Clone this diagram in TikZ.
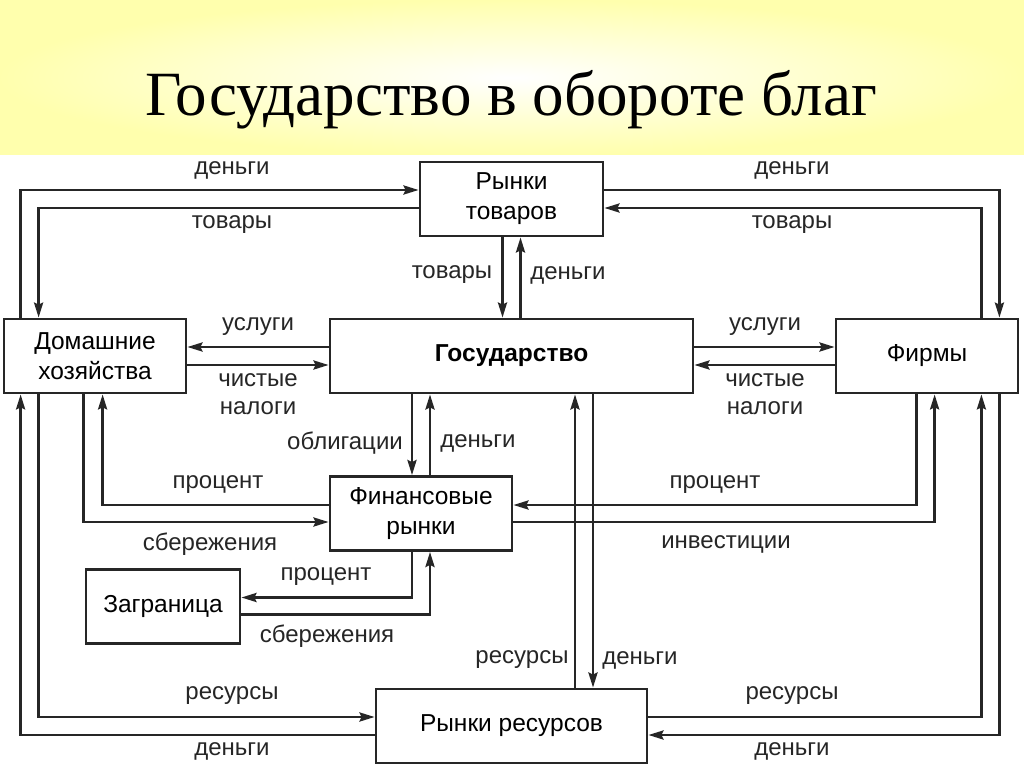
\documentclass[tikz,border=0pt]{standalone}
\usepackage{fontspec}
\setmainfont{Liberation Serif}
\setsansfont{Liberation Sans}
\usetikzlibrary{arrows.meta}

\begin{document}
\begin{tikzpicture}[x=1pt,y=-1pt,
	box/.style={draw=black!85,line width=2.8pt,inner sep=0pt,align=center,
		font=\sffamily\fontsize{24.5}{30}\selectfont},
	flow/.style={draw=black!85,line width=2.6pt,-{Stealth[length=15pt,width=9pt,inset=2pt]}},
	lbl/.style={inner sep=0pt,align=center,text=black!85,
		font=\sffamily\fontsize{24}{28}\selectfont}]
	\useasboundingbox (0,0) rectangle (1024,767);
	\fill[white] (0,0) rectangle (1024,767);
	\shade[inner color=white,outer color=yellow!32] (0,0) rectangle (1024,155);
	\node (title) at (511,100) {\fontsize{63}{70}\selectfont Государство в обороте благ};

	\node[box,minimum width=183,minimum height=74] (rt) at (511.5,199) {Рынки\\товаров};
	\node[box,minimum width=182,minimum height=74] (hh) at (95,356) {Домашние\\хозяйства};
	\node[box,minimum width=363,minimum height=74] (gov) at (511.5,356) {\bfseries Государство};
	\node[box,minimum width=182,minimum height=74] (firms) at (927,356) {Фирмы};
	\node[box,minimum width=182,minimum height=74] (fin) at (421,513.5) {Финансовые\\рынки};
	\node[box,minimum width=154,minimum height=74] (abroad) at (163,606.5) {Заграница};
	\node[box,minimum width=271,minimum height=74] (rr) at (511.5,726) {Рынки ресурсов};

	\draw[flow] ([xshift=18]hh.north west) |- ([yshift=9]rt.west);
	\draw[flow] ([yshift=-9]rt.west) -| ([xshift=36]hh.north west);
	\draw[flow] ([yshift=9]rt.east) -| ([xshift=-20]firms.north east);
	\draw[flow] ([xshift=-38]firms.north east) |- ([yshift=-9]rt.east);
	\draw[flow] ([xshift=-9]rt.south) -- ([xshift=-9]gov.north);
	\draw[flow] ([xshift=9]gov.north) -- ([xshift=9]rt.south);

	\draw[flow] ([yshift=9]gov.west) -- ([yshift=9]hh.east);
	\draw[flow] ([yshift=-9]hh.east) -- ([yshift=-9]gov.west);
	\draw[flow] ([yshift=9]gov.east) -- ([yshift=9]firms.west);
	\draw[flow] ([yshift=-9]firms.west) -- ([yshift=-9]gov.east);

	\draw[flow] ([xshift=-99.5]gov.south) -- ([xshift=-9]fin.north);
	\draw[flow] ([xshift=9]fin.north) -- ([xshift=-81.5]gov.south);
	\draw[flow] ([yshift=8.5]fin.west) -| ([xshift=100]hh.south west);
	\draw[flow] ([xshift=81]hh.south west) |- ([yshift=-8.5]fin.west);
	\draw[flow] ([xshift=82]firms.south west) |- ([yshift=8.5]fin.east);
	\draw[flow] ([yshift=-8.5]fin.east) -| ([xshift=100]firms.south west);
	\draw[flow] ([xshift=-9]fin.south) |- ([yshift=9]abroad.east);
	\draw[flow] ([yshift=-8]abroad.east) -| ([xshift=9]fin.south);

	\draw[flow] ([xshift=63.5]rr.north) -- ([xshift=63.5]gov.south);
	\draw[flow] ([xshift=81.5]gov.south) -- ([xshift=81.5]rr.north);
	\draw[flow] ([xshift=36]hh.south west) |- ([yshift=9]rr.west);
	\draw[flow] ([yshift=-9]rr.west) -| ([xshift=18]hh.south west);
	\draw[flow] ([yshift=9]rr.east) -| ([xshift=-38]firms.south east);
	\draw[flow] ([xshift=-20]firms.south east) |- ([yshift=-9]rr.east);

	\node[lbl] (l1) at (232,170) {деньги};
	\node[lbl] (l2) at (232,225) {товары};
	\node[lbl] (l3) at (792,170) {деньги};
	\node[lbl] (l4) at (792,225) {товары};
	\node[lbl] (l5) at (452,275) {товары};
	\node[lbl] (l6) at (568,275) {деньги};
	\node[lbl] (l7) at (258,327) {услуги};
	\node[lbl] (l8) at (258,394) {чистые\\налоги};
	\node[lbl] (l9) at (765,327) {услуги};
	\node[lbl] (l10) at (765,394) {чистые\\налоги};
	\node[lbl] (l11) at (345,443) {облигации};
	\node[lbl] (l12) at (478,443) {деньги};
	\node[lbl] (l13) at (218,485) {процент};
	\node[lbl] (l14) at (210,544) {сбережения};
	\node[lbl] (l15) at (715,485) {процент};
	\node[lbl] (l16) at (726,544) {инвестиции};
	\node[lbl] (l17) at (326,577) {процент};
	\node[lbl] (l18) at (327,636) {сбережения};
	\node[lbl] (l19) at (522,660) {ресурсы};
	\node[lbl] (l20) at (640,660) {деньги};
	\node[lbl] (l21) at (232,696) {ресурсы};
	\node[lbl] (l22) at (232,751) {деньги};
	\node[lbl] (l23) at (792,696) {ресурсы};
	\node[lbl] (l24) at (792,751) {деньги};
\end{tikzpicture}
\end{document}
